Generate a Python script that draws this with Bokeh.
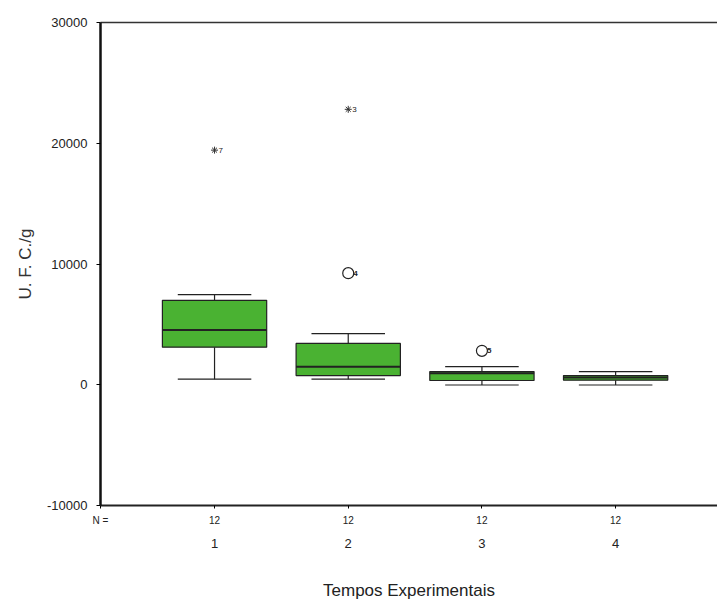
from bokeh.plotting import figure
from bokeh.models import LinearAxis, FixedTicker, ColumnDataSource, Range1d
from bokeh.core.properties import value
from bokeh.embed import file_html
from bokeh.resources import INLINE

# ---- data ----
groups = [1, 2, 3, 4]
n_labels = ["12", "12", "12", "12"]
whisker_low = [460, 460, -20, -20]
q1 = [3110, 760, 350, 380]
median = [4530, 1500, 960, 600]
q3 = [6990, 3420, 1090, 760]
whisker_high = [7460, 4240, 1500, 1090]

circle_x = [2, 3]
circle_y = [9240, 2810]
circle_lbl = ["4", "5"]
star_x = [1, 2]
star_y = [19430, 22810]
star_lbl = ["7", "3"]

y_ticks = [-10000, 0, 10000, 20000, 30000]
y_tick_labels = ["-10000", "0", "10000", "20000", "30000"]

FONT = "Liberation Sans"
GREEN = "#4ab232"
DARK = "#222222"

box_w = 0.78
cap_w = 0.55
x_start, x_end = 0.147, 4.762

p = figure(width=717, height=602, output_backend="svg", toolbar_location=None,
           x_range=Range1d(x_start, x_end), y_range=Range1d(-10000, 30000),
           x_axis_location=None, y_axis_location=None,
           min_border_left=100, min_border_right=0, min_border_top=22, min_border_bottom=97)
p.grid.visible = False
p.outline_line_color = None
p.background_fill_color = "white"
p.border_fill_color = "white"

src = ColumnDataSource(dict(x=groups, lo=whisker_low, q1=q1, med=median, q3=q3, hi=whisker_high,
                            x0=[g - box_w / 2 for g in groups], x1=[g + box_w / 2 for g in groups],
                            c0=[g - cap_w / 2 for g in groups], c1=[g + cap_w / 2 for g in groups]))

# whiskers
p.segment(x0="x", y0="q3", x1="x", y1="hi", source=src, line_color=DARK, line_width=1.2)
p.segment(x0="x", y0="q1", x1="x", y1="lo", source=src, line_color=DARK, line_width=1.2)
p.segment(x0="c0", y0="hi", x1="c1", y1="hi", source=src, line_color=DARK, line_width=1.2)
p.segment(x0="c0", y0="lo", x1="c1", y1="lo", source=src, line_color=DARK, line_width=1.2)
# boxes
p.quad(left="x0", right="x1", bottom="q1", top="q3", source=src,
       fill_color=GREEN, line_color=DARK, line_width=1.2)
p.segment(x0="x0", y0="med", x1="x1", y1="med", source=src, line_color=DARK, line_width=2)

# outliers
p.scatter(circle_x, circle_y, marker="circle", size=11, fill_color=None, line_color=DARK, line_width=1.2)
p.text(circle_x, circle_y, text=circle_lbl, x_offset=5, text_font=value(FONT), text_font_size="8px",
       text_font_style="bold", text_baseline="middle", text_color=DARK)
p.scatter(star_x, star_y, marker="asterisk", size=7, line_color="#333333", line_width=1)
p.text(star_x, star_y, text=star_lbl, x_offset=4, text_font=value(FONT), text_font_size="8px",
       text_baseline="middle", text_color=DARK)

# y axis
yax = LinearAxis(ticker=FixedTicker(ticks=y_ticks),
                 major_label_overrides={t: l for t, l in zip(y_ticks, y_tick_labels)})
yax.axis_line_width = 2.5
yax.axis_line_color = "#111111"
yax.major_tick_in = 0
yax.major_tick_out = 4
yax.minor_tick_line_color = None
yax.major_label_standoff = 9
yax.major_label_text_font = FONT
yax.major_label_text_font_size = "13px"
yax.major_label_text_color = DARK
yax.axis_label = "U. F. C./g"
yax.axis_label_text_font = FONT
yax.axis_label_text_font_size = "17px"
yax.axis_label_text_font_style = "normal"
yax.axis_label_text_color = "#333333"
yax.axis_label_standoff = 9
p.add_layout(yax, "left")

# top line
tax = LinearAxis(ticker=FixedTicker(ticks=[]), major_label_text_font_size="0px")
tax.axis_line_width = 1.5
tax.axis_line_color = "#333333"
tax.major_tick_line_color = None
tax.minor_tick_line_color = None
p.add_layout(tax, "above")

# bottom axis with N labels
n_ticks = [x_start] + groups
n_over = {x_start: "N ="}
n_over.update({g: l for g, l in zip(groups, n_labels)})
nax = LinearAxis(ticker=FixedTicker(ticks=n_ticks), major_label_overrides=n_over)
nax.axis_line_width = 2
nax.axis_line_color = "#222222"
nax.major_tick_in = 0
nax.major_tick_out = 3
nax.minor_tick_line_color = None
nax.major_label_standoff = 6
nax.major_label_text_font = FONT
nax.major_label_text_font_size = "10px"
nax.major_label_text_color = DARK
p.add_layout(nax, "below")

# bottom axis with group labels and title
gax = LinearAxis(ticker=FixedTicker(ticks=groups),
                 major_label_overrides={g: str(g) for g in groups})
gax.axis_line_color = None
gax.major_tick_line_color = None
gax.minor_tick_line_color = None
gax.major_label_standoff = 4
gax.major_label_text_font = FONT
gax.major_label_text_font_size = "13px"
gax.major_label_text_color = DARK
gax.axis_label = "Tempos Experimentais"
gax.axis_label_text_font = FONT
gax.axis_label_text_font_size = "17px"
gax.axis_label_text_font_style = "normal"
gax.axis_label_text_color = DARK
gax.axis_label_standoff = 30
p.add_layout(gax, "below")

open("out.html", "w").write(file_html(p, INLINE))
